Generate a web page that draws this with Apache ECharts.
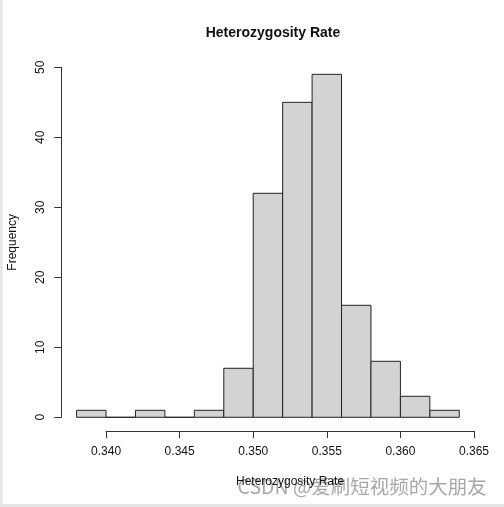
<!DOCTYPE html>
<html><head><meta charset="utf-8">
<script src="https://cdn.jsdelivr.net/npm/echarts@6/dist/echarts.min.js"></script>
<style>html,body{margin:0;padding:0;background:#fff}#c{width:504px;height:507px}</style>
</head><body><div id="c"></div>
<script>
// ---- data ----
const binStarts = [0.338,0.340,0.342,0.344,0.346,0.348,0.350,0.352,0.354,0.356,0.358,0.360,0.362];
const binWidth = 0.002;
const counts = [1,0,1,0,1,7,32,45,49,16,8,3,1];
const xTicks = [0.340,0.345,0.350,0.355,0.360,0.365];
const yTicks = [0,10,20,30,40,50];
const titleText = 'Heterozygosity Rate';
const xLabel = 'Heterozygosity Rate';
const yLabel = 'Frequency';

// ---- layout ----
const plotLeft = 61.3, plotRight = 474.6, plotTop = 60.6, plotBottom = 431;
const xLo = binStarts[0], xHi = binStarts[binStarts.length-1] + binWidth;
const xMin = xLo - 0.04*(xHi-xLo), xMax = xHi + 0.04*(xHi-xLo);
const yTop = Math.max(...counts);
const yMin = -0.04*yTop, yMax = yTop + 0.04*yTop;
const px = v => plotLeft + (v - xMin)/(xMax - xMin)*(plotRight - plotLeft);
const py = v => plotBottom - (v - yMin)/(yMax - yMin)*(plotBottom - plotTop);

const xA0 = px(xTicks[0]), xA1 = px(xTicks[xTicks.length-1]);
const yA0 = py(yTicks[0]), yA1 = py(yTicks[yTicks.length-1]);

const bars = binStarts.map((s,i)=>[s, s+binWidth, counts[i]]);
const font = '"Liberation Sans", Arial, Helvetica, sans-serif';

const chart = echarts.init(document.getElementById('c'));
chart.setOption({
  animation:false,
  backgroundColor:'#fff',
  title:{text:titleText, left:268, top:21, textAlign:'center',
    textStyle:{fontFamily:font, fontSize:14, fontWeight:'bold', color:'#111'}},
  grid:[
    {left:plotLeft, top:plotTop, width:plotRight-plotLeft, height:plotBottom-plotTop},
    {left:xA0, top:plotBottom-1, width:xA1-xA0, height:1},
    {left:plotLeft, top:yA1, width:1, height:yA0-yA1}
  ],
  xAxis:[
    {type:'value', gridIndex:0, min:xMin, max:xMax, show:false},
    {type:'value', gridIndex:1, min:xTicks[0], max:xTicks[xTicks.length-1], interval:0.005,
      position:'bottom',
      axisLine:{show:true, lineStyle:{color:'#333', width:1}},
      axisTick:{show:true, length:7, lineStyle:{color:'#333'}},
      splitLine:{show:false},
      axisLabel:{margin:15, fontFamily:font, fontSize:12, color:'#111',
        formatter:v=>v.toFixed(3)},
      name:xLabel, nameLocation:'middle', nameGap:45,
      nameTextStyle:{fontFamily:font, fontSize:12, color:'#111'}},
    {type:'value', gridIndex:2, show:false, min:0, max:1}
  ],
  yAxis:[
    {type:'value', gridIndex:0, min:yMin, max:yMax, show:false},
    {type:'value', gridIndex:1, show:false, min:0, max:1},
    {type:'value', gridIndex:2, min:yTicks[0], max:yTicks[yTicks.length-1], interval:10,
      position:'left',
      axisLine:{show:true, lineStyle:{color:'#333', width:1}},
      axisTick:{show:true, length:7, lineStyle:{color:'#333'}},
      splitLine:{show:false},
      axisLabel:{margin:15, rotate:90, fontFamily:font, fontSize:12, color:'#111'},
      name:yLabel, nameLocation:'middle', nameGap:43, nameRotate:90,
      nameTextStyle:{fontFamily:font, fontSize:12, color:'#111'}}
  ],
  series:[{
    type:'custom', xAxisIndex:0, yAxisIndex:0, data:bars,
    renderItem:(params, api)=>{
      const p0 = api.coord([api.value(0), api.value(2)]);
      const p1 = api.coord([api.value(1), 0]);
      return {type:'rect',
        shape:{x:p0[0], y:p0[1], width:p1[0]-p0[0], height:p1[1]-p0[1]},
        style:{fill:'#d3d3d3', stroke:'#222', lineWidth:1}};
    }
  }],
  graphic:[
    {type:'rect', left:0, top:0, shape:{width:2.7, height:507}, style:{fill:'#e6e6e6'}, silent:true},
    {type:'rect', left:0, top:504, shape:{width:504, height:3}, style:{fill:'#e6e6e6'}, silent:true},
    {type:'text', left:237, top:476, style:{text:'CSDN @爱刷短视频的大朋友',
      fontFamily:'"Noto Sans CJK SC", sans-serif', fontSize:19.5,
      fill:'rgba(130,130,130,0.7)', stroke:'rgba(255,255,255,0.6)', lineWidth:1}}
  ]
});
</script></body></html>
